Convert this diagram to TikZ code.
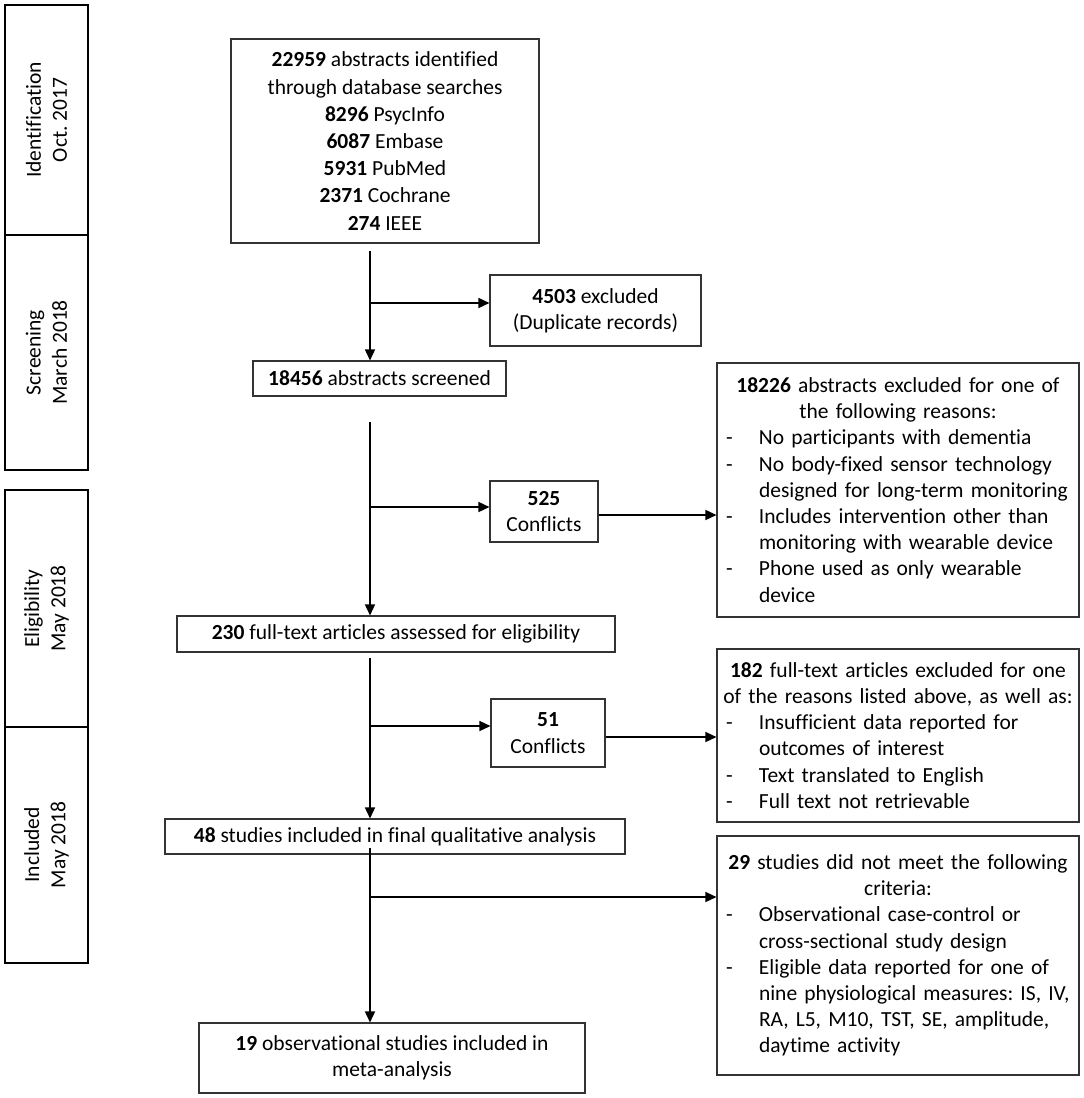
\documentclass[tikz,border=0pt]{standalone}
\usepackage{fontspec}
\setmainfont{Carlito}[Ligatures=NoCommon,Contextuals=NoAlternate]
\usetikzlibrary{arrows.meta,calc}
\newcommand{\bul}[1]{\par\noindent\hangindent=42pt\hangafter=1\makebox[42pt][l]{\hspace{9pt}-}#1}
\frenchspacing
\begin{document}
\begin{tikzpicture}[x=1pt,y=-1pt,
  txt/.style={font=\fontsize{21.5}{26.2}\selectfont},
  phase/.style={draw=black,line width=1.5pt,minimum width=83pt,inner sep=0pt,txt,rotate=90,align=center},
  box/.style={draw=black!80,line width=1.1pt,inner sep=0pt,txt,align=center},
  bigbox/.style={draw=black!80,line width=1.1pt,inner sep=0pt,txt,text width=362pt,minimum width=362pt},
  arr/.style={line width=1.5pt,-{Triangle[length=11pt,width=10pt]}},
  ln/.style={line width=1.5pt}]
\useasboundingbox (0,0) rectangle (1084,1098);
% phase bars (rotated: minimum width acts vertically)
\node[phase,minimum height=83pt,minimum width=230pt] (pid) at (46.5,120) {Identification\\Oct. 2017};
\node[phase,minimum height=83pt,minimum width=235pt] (psc) at (46.5,352.5) {Screening\\March 2018};
\node[phase,minimum height=83pt,minimum width=237pt] (pel) at (46.5,608.5) {Eligibility\\May 2018};
\node[phase,minimum height=83pt,minimum width=236pt] (pin) at (46.5,845) {Included\\May 2018};
% main boxes
\node[box,minimum width=308pt,minimum height=204pt,font=\fontsize{21.5}{27.2}\selectfont] (top) at (385,141)
  {\textbf{22959} abstracts identified\\through database searches\\\textbf{8296} PsycInfo\\\textbf{6087} Embase\\\textbf{5931} PubMed\\\textbf{2371} Cochrane\\\textbf{274} IEEE};
\node[box,minimum width=211pt,minimum height=71pt] (dup) at (595.5,310.5) {\textbf{4503} excluded\\(Duplicate records)};
\node[box,minimum width=253pt,minimum height=35pt] (scr) at (379.5,378.5) {\textbf{18456} abstracts screened};
\node[box,minimum width=108pt,minimum height=61pt] (cA) at (544,511.5) {\textbf{525}\\Conflicts};
\node[bigbox,minimum height=254pt] (exA) at (898,490) {%
  {\centering\textbf{18226} abstracts excluded for one of\\the following reasons:\par}%
  \raggedright
  \bul{No participants with dementia}
  \bul{No body-fixed sensor technology\newline designed for long-term monitoring}
  \bul{Includes intervention other than\newline monitoring with wearable device}
  \bul{Phone used as only wearable\newline device}\par};
\node[box,minimum width=438pt,minimum height=36pt] (full) at (396,634) {\textbf{230} full-text articles assessed for eligibility};
\node[box,minimum width=114pt,minimum height=68pt] (cB) at (548,733) {\textbf{51}\\Conflicts};
\node[bigbox,minimum height=173pt] (exB) at (898,735.5) {%
  {\centering\textbf{182} full-text articles excluded for one\\of the reasons listed above, as well as:\par}%
  \raggedright
  \bul{Insufficient data reported for\newline outcomes of interest}
  \bul{Text translated to English}
  \bul{Full text not retrievable}\par};
\node[box,minimum width=460pt,minimum height=35pt] (qual) at (395,836.5) {\textbf{48} studies included in final qualitative analysis};
\node[bigbox,minimum height=239pt] (exC) at (898,955.5) {%
  {\centering\textbf{29} studies did not meet the following\\criteria:\par}%
  \raggedright
  \bul{Observational case-control or\newline cross-sectional study design}
  \bul{Eligible data reported for one of\newline nine physiological measures: IS, IV,\newline RA, L5, M10, TST, SE, amplitude,\newline daytime activity}\par};
\node[box,minimum width=386pt,minimum height=70pt] (meta) at (392,1058) {\textbf{19} observational studies included in\\meta-analysis};
% connectors
\coordinate (k1) at (370,251);
\coordinate (b1) at (370,303);
\coordinate (k2) at (370,422);
\coordinate (b2) at (370,507);
\coordinate (k3) at (370,658);
\coordinate (b3) at (370,726);
\coordinate (k4) at (370,848);
\coordinate (b4) at (370,897);
\draw[arr] (k1) -- (k1 |- scr.north);
\draw[arr] (b1) -- (b1 -| dup.west);
\draw[arr] (k2) -- (k2 |- full.north);
\draw[arr] (b2) -- (b2 -| cA.west);
\draw[arr] ($(cA.east)+(0,3.5)$) -- ($(cA.east -| exA.west)+(0,3.5)$);
\draw[arr] (k3) -- (k3 |- qual.north);
\draw[arr] (b3) -- (b3 -| cB.west);
\draw[arr] ($(cB.east)+(0,4)$) -- ($(cB.east -| exB.west)+(0,4)$);
\draw[arr] (k4) -- (k4 |- meta.north);
\draw[arr] (b4) -- (b4 -| exC.west);
\end{tikzpicture}
\end{document}
